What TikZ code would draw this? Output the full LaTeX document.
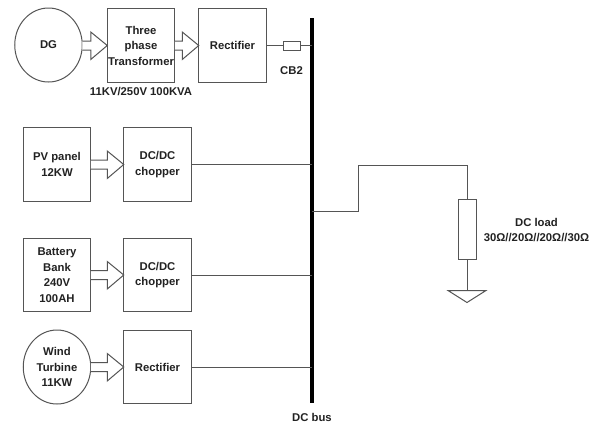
\documentclass[tikz,border=0pt]{standalone}
\usepackage{fontspec}
\setmainfont{Liberation Sans}
\usetikzlibrary{calc}
\definecolor{linegray}{HTML}{555555}
\definecolor{textdark}{HTML}{222222}
\tikzset{
  x=1pt,y=-1pt,
  every node/.style={inner sep=0pt,outer sep=0pt,font=\fontsize{11.3}{15.5}\selectfont\bfseries,text=textdark,align=center},
  unit/.style={draw=linegray,line width=1pt,fill=white,minimum width=67.5pt,minimum height=73.5pt},
  gen/.style={draw=linegray,line width=1pt,fill=white,ellipse,minimum width=67.5pt,minimum height=74pt},
  wire/.style={draw=linegray,line width=1pt},
  blockarrow/.style={draw=linegray,line width=1pt,fill=white,line join=miter},
  lbl/.style={},
  breaker/.style={draw=linegray,line width=.9pt,fill=white,minimum width=17pt,minimum height=9pt},
  resistor/.style={draw=linegray,line width=.9pt,fill=white,minimum width=18pt,minimum height=60pt},
  busbar/.style={draw=black,line width=3.6pt}
}
\usetikzlibrary{shapes.geometric}
\newcommand{\blockarr}[2]{%
  \draw[blockarrow] ($(#1.east |- #2.west)+(0,-4.5)$) -- ($(#2.west)+(-16.5,-4.5)$) -- ++(0,-9) -- (#2.west)
    -- ($(#2.west)+(-16.5,14)$) -- ++(0,-9.5) -- ($(#1.east |- #2.west)+(0,4.5)$);}
\begin{document}
\begin{tikzpicture}
\useasboundingbox[fill=white] (0,0) rectangle (590,426);
% sources and converters
\node[gen] (dg) at (48.5,45) {DG};
\node[unit] (xf) at (141,45.5) {Three\\phase\\Transformer};
\node[unit] (rect1) at (232.5,45.5) {Rectifier};
\node[unit] (pv) at (57,164.5) {PV panel\\12KW};
\node[unit] (dc1) at (157.5,164.5) {DC/DC\\chopper};
\node[unit] (bat) at (57,275) {Battery\\Bank\\240V\\100AH};
\node[unit] (dc2) at (157.5,275) {DC/DC\\chopper};
\node[gen] (wt) at (57,367) {Wind\\Turbine\\11KW};
\node[unit] (rect2) at (157.5,367) {Rectifier};
% bus
\coordinate (bustop) at (312,18);
\coordinate (busbot) at (312,403);
\draw[busbar] (bustop) -- (busbot);
% block arrows
\blockarr{dg}{xf}
\blockarr{xf}{rect1}
\blockarr{pv}{dc1}
\blockarr{bat}{dc2}
\blockarr{wt}{rect2}
% breaker
\node[breaker] (cb) at (291.5,45.5) {};
\draw[wire] (rect1.east) -- (cb.west);
\draw[wire] (cb.east) -- (cb.east -| bustop);
% converters to bus
\draw[wire] (dc1.east) -- (dc1.east -| bustop);
\draw[wire] (dc2.east) -- (dc2.east -| bustop);
\draw[wire] (rect2.east) -- (rect2.east -| bustop);
% load
\node[resistor] (load) at (467,229) {};
\coordinate (tap) at (312,211);
\coordinate (gnd) at (467,290.5);
\draw[wire] (tap) -- (358,211) -- (358,165) -- (load.north |- 0,165) -- (load.north);
\draw[wire] (load.south) -- (gnd);
\draw[wire,line join=miter] (gnd) -- (448,290.5) -- (467,302.5) -- (486,290.5) -- cycle;
% labels
\node[lbl] (l1) at (141,92) {11KV/250V 100KVA};
\node[lbl] (l2) at (291.5,70.5) {CB2};
\node[lbl] (l3) at (536.5,222) {DC load};
\node[lbl] (l4) at (536.5,237.5) {30Ω//20Ω//20Ω//30Ω};
\node[lbl] (l5) at (312,417) {DC bus};
\end{tikzpicture}
\end{document}
